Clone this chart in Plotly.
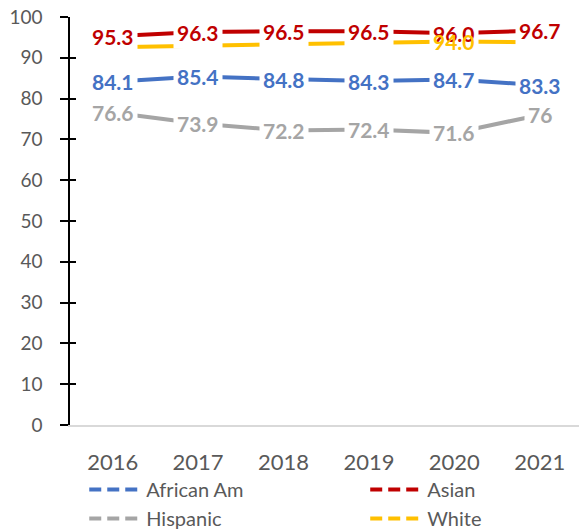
import plotly.graph_objects as go

years = ["2016", "2017", "2018", "2019", "2020", "2021"]
african_am = [84.1, 85.4, 84.8, 84.3, 84.7, 83.3]
asian = [95.3, 96.3, 96.5, 96.5, 96.0, 96.7]
hispanic = [76.6, 73.9, 72.2, 72.4, 71.6, 76]
white = [92.6, 92.9, 93.3, 93.5, 94.0, 93.8]

african_labels = ["84.1", "85.4", "84.8", "84.3", "84.7", "83.3"]
asian_labels = ["95.3", "96.3", "96.5", "96.5", "96.0", "96.7"]
hispanic_labels = ["76.6", "73.9", "72.2", "72.4", "71.6", "76"]
white_labels = ["", "", "", "", "94.0", ""]

series = [
    ("African Am", african_am, african_labels, "#4472C4", "legend"),
    ("Asian", asian, asian_labels, "#C00000", "legend2"),
    ("Hispanic", hispanic, hispanic_labels, "#A5A5A5", "legend"),
    ("White", white, white_labels, "#FFC000", "legend2"),
]

FONT = "Lato"
xs = list(range(len(years)))

fig = go.Figure()
for name, vals, labs, col, lg in series:
    fig.add_trace(go.Scatter(x=xs, y=vals, mode="lines", line=dict(color=col, width=4),
                             showlegend=False, hoverinfo="skip"))

# legend-only traces with dashed samples
for name, vals, labs, col, lg in series:
    fig.add_trace(go.Scatter(x=[None], y=[None], mode="lines", name=name,
                             line=dict(color=col, width=4, dash="12px,6px"),
                             yaxis="y2", showlegend=True, legend=lg))

annotations = []
for name, vals, labs, col, lg in series:
    for x, v, t in zip(xs, vals, labs):
        if not t:
            continue
        annotations.append(dict(
            x=x, y=v, xref="x", yref="y", text=t, showarrow=False,
            font=dict(family=FONT, size=21, color=col, weight="bold"),
            bgcolor="rgba(0,0,0,0)" if name == "White" else "white",
            borderpad=3, xanchor="center", yanchor="middle",
        ))

legend_common = dict(
    orientation="v", xanchor="left", yanchor="top",
    font=dict(family=FONT, size=20, color="#595959"),
    bgcolor="rgba(0,0,0,0)", tracegroupgap=0, itemwidth=52,
)

fig.update_layout(
    width=579, height=529,
    margin=dict(l=70, r=0, t=17, b=104, autoexpand=False),
    paper_bgcolor="white", plot_bgcolor="white",
    font=dict(family=FONT, color="#595959"),
    xaxis=dict(
        range=[-0.5, 5.46], tickvals=xs, ticktext=years,
        showgrid=False, zeroline=False, showline=True,
        linecolor="#D9D9D9", linewidth=2, ticks="",
        tickfont=dict(family=FONT, size=22, color="#595959"),
        ticklabelstandoff=17,
    ),
    yaxis=dict(
        range=[0, 100], tickvals=list(range(0, 101, 10)),
        showgrid=False, zeroline=False, showline=True,
        linecolor="black", linewidth=1.5,
        ticks="outside", ticklen=8, tickwidth=1.5, tickcolor="black",
        tickfont=dict(family=FONT, size=19, color="#595959"),
        ticklabelstandoff=14,
    ),
    yaxis2=dict(
        range=[0, 100], tickvals=list(range(0, 101, 10)),
        overlaying="y", side="left", showgrid=False, zeroline=False,
        showline=False, ticks="inside", ticklen=6, tickwidth=1.5,
        tickcolor="black", showticklabels=False,
    ),
    legend=dict(x=0.028, y=-0.11, **legend_common),
    legend2=dict(x=0.58, y=-0.11, **legend_common),
    annotations=annotations,
)

fig.write_html("out.html", config={"displayModeBar": False},
               post_script="document.body.style.margin='0';")
